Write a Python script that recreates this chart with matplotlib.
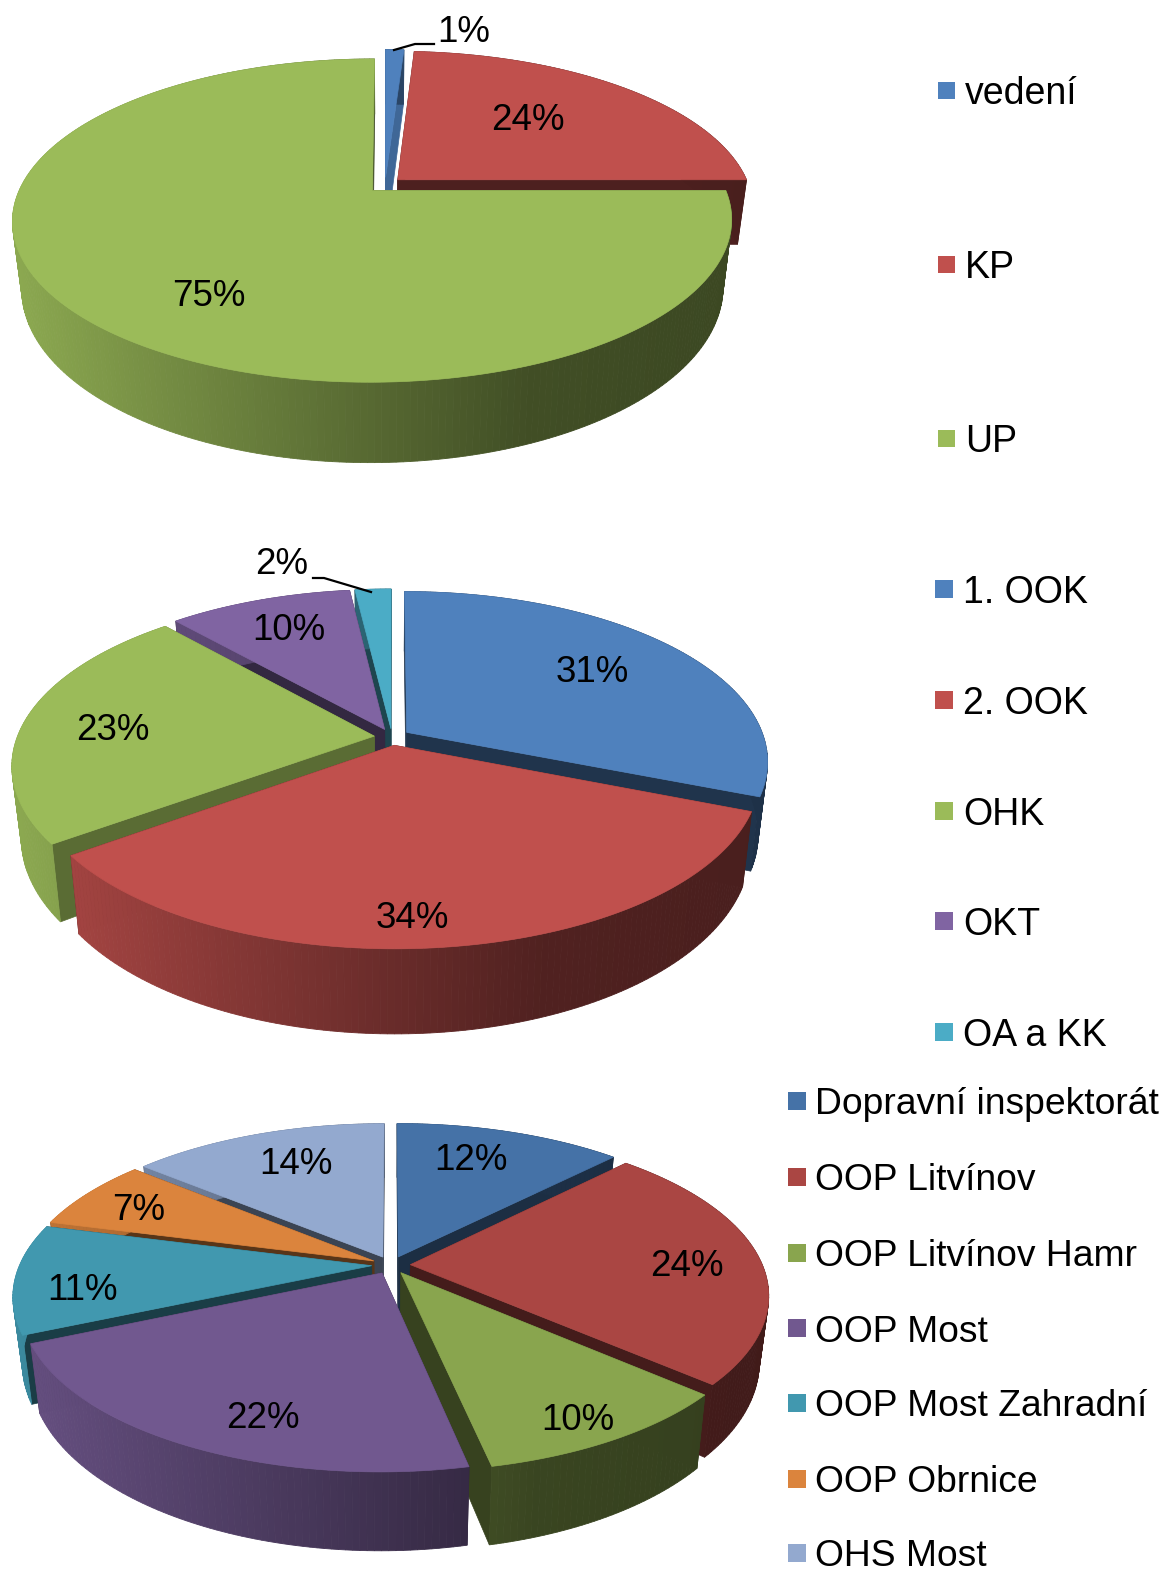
import numpy as np
import matplotlib
matplotlib.use('Agg')
import matplotlib.pyplot as plt
from matplotlib.patches import Polygon, Rectangle

plt.rcParams['font.family'] = ['Liberation Sans', 'DejaVu Sans']

# data
labels_1 = ['vedení', 'KP', 'UP']
values_1 = [1, 24, 75]
labels_2 = ['1. OOK', '2. OOK', 'OHK', 'OKT', 'OA a KK']
values_2 = [31, 34, 23.4, 9.7, 1.9]
labels_3 = ['Dopravní inspektorát', 'OOP Litvínov', 'OOP Litvínov Hamr', 'OOP Most',
            'OOP Most Zahradní', 'OOP Obrnice', 'OHS Most']
values_3 = [12.3, 24.2, 10.2, 21.7, 10.7, 7.0, 13.9]

colors_1 = ['#4F81BD', '#C0504D', '#9BBB59', '#8064A2', '#4BACC6']
colors_3 = ['#4572A7', '#AA4643', '#89A54E', '#71588F', '#4198AF', '#DB843D', '#93A9CF']

fig = plt.figure(figsize=(11.64, 15.73), dpi=100)
ax = fig.add_axes([0, 0, 1, 1])
ax.set_xlim(0, 1164)
ax.set_ylim(1573, 0)
ax.axis('off')


def wall_shade(t):
    # lighter on the left, dark on the right
    return np.interp(t, [0, 0.25, 0.5, 0.7, 1], [0.9, 0.72, 0.55, 0.42, 0.38])


def draw_pie(values, colors, cx, cy, A, B, k, D, explode, cut=None, taper=0.975):
    z = 2
    total = sum(values)
    edges = np.cumsum([0] + list(values)) / total * 2 * np.pi
    mids = (edges[:-1] + edges[1:]) / 2
    xmin, xmax = cx - A * 1.05, cx + A * 1.05

    def proj(u, v):
        w = 1 + k * v
        return cx + A * u / w, cy - B * v / w, D / w

    def low(px):
        # vertical edges lean in a little towards the bottom
        return cx + (px - cx) * taper

    for i in np.argsort(-np.cos(mids)):
        eu, ev = explode * np.sin(mids[i]), explode * np.cos(mids[i])
        th = np.linspace(edges[i], edges[i + 1], max(8, int((edges[i + 1] - edges[i]) * 60)))
        x, y, d = proj(eu + np.sin(th), ev + np.cos(th))
        x0, y0, d0 = proj(eu, ev)
        rgb = np.array(matplotlib.colors.to_rgb(colors[i]))
        # cut faces
        shade = 0.4 if cut is None else cut[i]
        for j in [0, -1]:
            quad = [(x0, y0), (x[j], y[j]), (low(x[j]), y[j] + d[j]), (low(x0), y0 + d0)]
            ax.add_patch(Polygon(quad, fc=rgb * shade, ec=rgb * shade, lw=0.5, zorder=z))
            z += 1
        # outer wall, one strip per step so the shading can run along x
        for j in np.argsort(-np.cos(th[:-1])):
            quad = [(x[j], y[j]), (x[j + 1], y[j + 1]),
                    (low(x[j + 1]), y[j + 1] + d[j + 1]), (low(x[j]), y[j] + d[j])]
            c = rgb * wall_shade((x[j] - xmin) / (xmax - xmin))
            ax.add_patch(Polygon(quad, fc=c, ec=c, lw=0.6, zorder=z))
            z += 1
        # top
        top = [(x0, y0)] + list(zip(x, y))
        ax.add_patch(Polygon(top, fc=rgb, ec=rgb, lw=0.5, zorder=z))
        z += 1


def pct_labels(values, positions):
    total = sum(values)
    for val, (px, py) in zip(values, positions):
        ax.text(px, py, f'{round(val / total * 100)}%', fontsize=26.5, color='black',
                ha='center', va='center', zorder=5000)


def legend(labels, colors, sq_x, txt_x, ys, fs, size):
    for lab, col, yy in zip(labels, colors, ys):
        ax.add_patch(Rectangle((sq_x, yy - size / 2), size, size, fc=col, ec='none', zorder=5000))
        ax.text(txt_x, yy, lab, fontsize=fs, color='black', ha='left', va='center_baseline', zorder=5000)


draw_pie(values_1, colors_1, 385, 185, 351, 154, 0.185, 65, 0.05, cut=[0.8, 0.4, 0.4])
draw_pie(values_2, colors_1, 392, 737, 357, 166, 0.169, 70, 0.05,
         cut=[0.4, 0.4, 0.58, 0.4, 0.4])
draw_pie(values_3, colors_3, 391, 1265, 352, 160, 0.18, 64, 0.055)

pct_labels(values_1, [(464, 32), (528, 121), (209, 297)])
pct_labels(values_2, [(592, 672), (412, 918), (113, 731), (289, 630), (282, 565)])
pct_labels(values_3, [(471, 1161), (687, 1267), (578, 1421), (263, 1419), (82, 1290),
                      (139, 1211), (296, 1164)])

# leader lines
ax.plot([394, 415, 434], [50, 44, 44], color='black', lw=1.6, zorder=5000)
ax.plot([313, 324, 371], [578, 578, 592], color='black', lw=1.6, zorder=5000)

legend(labels_1, colors_1, 938, 965, [90, 264, 438], 27, 17)
legend(labels_2, colors_1, 935, 963, [589, 700, 811, 921, 1032], 27, 18)
legend(labels_3, colors_3, 788, 815, [1101, 1177, 1253, 1328, 1403, 1479, 1553], 26.8, 18)

fig.savefig('out.png', dpi=100)
